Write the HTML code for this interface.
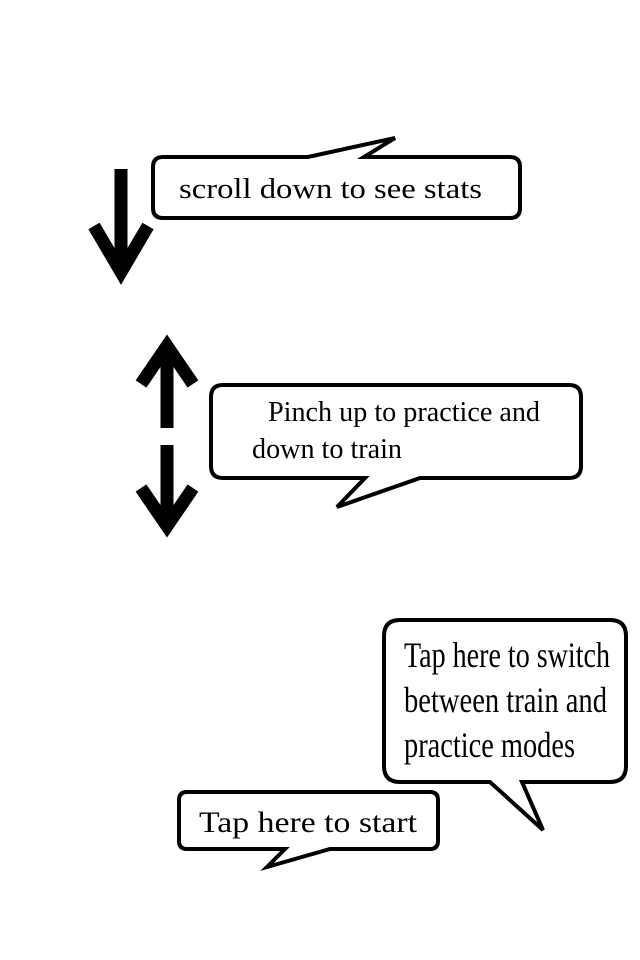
<!DOCTYPE html>
<html><head><meta charset="utf-8"><style>
html,body{margin:0;padding:0;background:#fff;width:640px;height:960px;overflow:hidden}
svg text{font-family:"Liberation Serif",serif;fill:#000}
</style></head><body>
<svg width="640" height="960" viewBox="0 0 640 960" xmlns="http://www.w3.org/2000/svg">
<g fill="#fff" stroke="#000" stroke-width="4" stroke-linejoin="miter">
<path d="M163,157 L308,157 L395,138 L364,157 L510,157 Q520,157 520,167 L520,208 Q520,218 510,218 L163,218 Q153,218 153,208 L153,167 Q153,157 163,157 Z"/>
<path d="M223,385 L569,385 Q581,385 581,397 L581,466 Q581,478 569,478 L420,478 L337,507 L365,478 L223,478 Q211,478 211,466 L211,397 Q211,385 223,385 Z"/>
<path d="M400,620 L610,620 Q626,620 626,636 L626,766 Q626,782 610,782 L522,782 L543,830 L490,782 L400,782 Q384,782 384,766 L384,636 Q384,620 400,620 Z"/>
<path d="M187,792 L430,792 Q438,792 438,800 L438,841 Q438,849 430,849 L330,849 L267,867 L285,849 L187,849 Q179,849 179,841 L179,800 Q179,792 187,792 Z"/>
</g>
<g stroke="#000" fill="none" stroke-width="13" stroke-linejoin="miter" stroke-miterlimit="10">
<line x1="121" y1="169" x2="121" y2="272"/>
<polyline points="94,226 121,272 148,226"/>
<line x1="167" y1="350" x2="167" y2="428"/>
<polyline points="141,384 167,346 193,384"/>
<line x1="167" y1="445" x2="167" y2="522"/>
<polyline points="141,488 167,526 193,488"/>
</g>
<text x="179" y="198" font-size="28" textLength="303" lengthAdjust="spacingAndGlyphs">scroll down to see stats</text>
<text x="268" y="421" font-size="28" textLength="272" lengthAdjust="spacingAndGlyphs">Pinch up to practice and</text>
<text x="252" y="458" font-size="28" textLength="150" lengthAdjust="spacingAndGlyphs">down to train</text>
<text x="404" y="667" font-size="36" textLength="206" lengthAdjust="spacingAndGlyphs">Tap here to switch</text>
<text x="404" y="712" font-size="36" textLength="203" lengthAdjust="spacingAndGlyphs">between train and</text>
<text x="404" y="757" font-size="36" textLength="171" lengthAdjust="spacingAndGlyphs">practice modes</text>
<text x="199" y="832" font-size="30" textLength="218" lengthAdjust="spacingAndGlyphs">Tap here to start</text>
</svg>
</body></html>
